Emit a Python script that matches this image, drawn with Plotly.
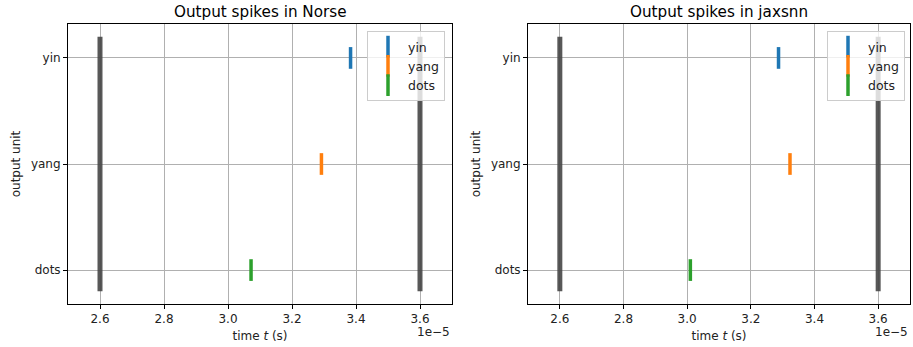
import plotly.graph_objects as go

# ---- data ----
units = ["dots", "yang", "yin"]
colors = ["#1f77b4", "#ff7f0e", "#2ca02c"]  # yin, yang, dots
legend_order = ["yin", "yang", "dots"]

norse_spikes_s = {"yin": 3.383e-5, "yang": 3.292e-5, "dots": 3.072e-5}
jaxsnn_spikes_s = {"yin": 3.287e-5, "yang": 3.323e-5, "dots": 3.010e-5}
window_s = [2.6e-5, 3.6e-5]
x_ticks = [2.6, 2.8, 3.0, 3.2, 3.4, 3.6]
scale = 1e-5

titles = ["Output spikes in Norse", "Output spikes in jaxsnn"]

W, H = 913, 347
FONT = "DejaVu Sans"

fig = go.Figure()

def px_x(p):
    return p / W

def px_y(p):
    return 1 - p / H

domains_x = [[px_x(68), px_x(452)], [px_x(528), px_x(910)]]
domain_y = [px_y(304), px_y(24)]

for i, spikes in enumerate([norse_spikes_s, jaxsnn_spikes_s]):
    xa = "x" if i == 0 else "x2"
    ya = "y" if i == 0 else "y2"
    leg = "legend" if i == 0 else "legend2"
    # grey window lines
    gx, gy = [], []
    for w in window_s:
        gx += [w / scale, w / scale, None]
        gy += [-0.2, 2.2, None]
    fig.add_trace(go.Scatter(x=gx, y=gy, mode="lines", xaxis=xa, yaxis=ya,
                             line=dict(color="rgba(70,70,70,0.9)", width=5),
                             showlegend=False, hoverinfo="skip"))
    for name, col in zip(legend_order, colors):
        fig.add_trace(go.Scatter(
            x=[spikes[name] / scale], y=[units.index(name)], mode="markers",
            xaxis=xa, yaxis=ya, name=name, legend=leg,
            marker=dict(symbol="line-ns", size=15.5, color=col,
                        line=dict(color=col, width=3.5))))

axis_common = dict(showline=True, linecolor="black", linewidth=1, mirror=True,
                   ticks="outside", ticklen=4, tickcolor="black",
                   showgrid=True, gridcolor="#b0b0b0", gridwidth=1,
                   zeroline=False, automargin=False,
                   tickfont=dict(family=FONT, size=12, color="#222"))

for i in range(2):
    sfx = "" if i == 0 else "2"
    fig.update_layout(**{
        "xaxis" + sfx: dict(axis_common, domain=domains_x[i], range=[2.5, 3.7],
                            tickvals=x_ticks, ticktext=[f"{v:.1f}" for v in x_ticks],
                            anchor="y" + sfx,
                            title=dict(text="time <i>t</i> (s)", standoff=6,
                                       font=dict(family=FONT, size=12, color="#222"))),
        "yaxis" + sfx: dict(axis_common, domain=domain_y, range=[-0.32, 2.32],
                            tickvals=[0, 1, 2], ticktext=units, anchor="x" + sfx,
                            title=dict(text="output unit", standoff=7,
                                       font=dict(family=FONT, size=12, color="#222"))),
    })
    xd = domains_x[i]
    fig.add_annotation(x=(xd[0] + xd[1]) / 2, y=px_y(12), xref="paper", yref="paper",
                       text=titles[i], showarrow=False, xanchor="center", yanchor="middle",
                       font=dict(family=FONT, size=15.2, color="black"))
    fig.add_annotation(x=xd[1], y=px_y(332), xref="paper", yref="paper",
                       text="1e\u22125", showarrow=False, xanchor="right", yanchor="middle",
                       font=dict(family=FONT, size=12, color="#222"))

legend_common = dict(xanchor="right", yanchor="top", bgcolor="rgba(255,255,255,0.8)",
                     bordercolor="#cccccc", borderwidth=1, tracegroupgap=0,
                     font=dict(family=FONT, size=12.5, color="#222"), itemsizing="trace")
fig.update_layout(
    width=W, height=H, margin=dict(l=0, r=0, t=0, b=0),
    paper_bgcolor="white", plot_bgcolor="white",
    legend=dict(legend_common, x=px_x(445), y=px_y(31)),
    legend2=dict(legend_common, x=px_x(905), y=px_y(31)),
    font=dict(family=FONT),
)

fig.write_html("out.html", config={"displayModeBar": False},
               post_script="document.body.style.margin='0';document.body.style.padding='0';")
